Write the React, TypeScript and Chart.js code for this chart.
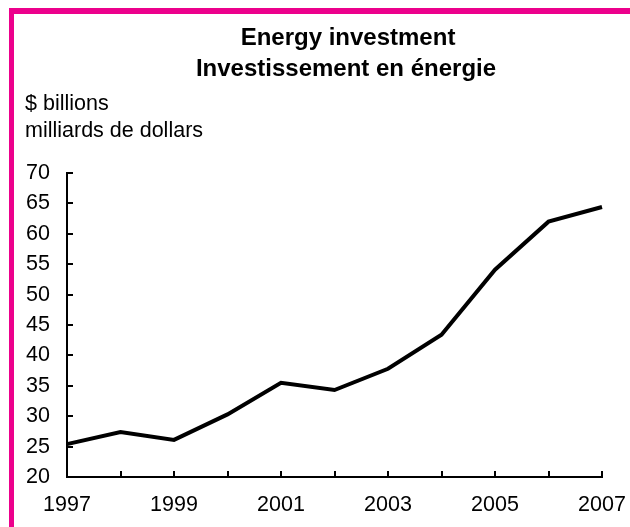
import React, { useEffect, useRef } from "react";
import { Chart, registerables } from "chart.js";

Chart.register(...registerables);

const years = ["1997", "1998", "1999", "2000", "2001", "2002", "2003", "2004", "2005", "2006", "2007"];
const investment = [25.4, 27.4, 26.1, 30.3, 35.5, 34.3, 37.8, 43.4, 54.1, 62.0, 64.4];
const yTicks = [20, 25, 30, 35, 40, 45, 50, 55, 60, 65, 70];
const titleLines = ["Energy investment", "Investissement en énergie"];
const unitLines = ["$ billions", "milliards de dollars"];

const FONT = "'Liberation Sans', Arial, Helvetica, sans-serif";
const PINK = "#ec008c";

const decorPlugin = {
  id: "decor",
  beforeDraw(chart: any) {
    const ctx = chart.ctx;
    ctx.save();
    ctx.fillStyle = "#ffffff";
    ctx.fillRect(0, 0, chart.width, chart.height);
    ctx.fillStyle = PINK;
    ctx.fillRect(9, 8, 5, chart.height - 8);
    ctx.fillRect(9, 8, chart.width - 9, 6);
    ctx.restore();
  },
  afterDraw(chart: any) {
    const ctx = chart.ctx;
    const area = chart.chartArea;
    const xs = chart.scales.x;
    const ys = chart.scales.y;
    ctx.save();
    ctx.fillStyle = "#000";
    ctx.textAlign = "center";
    ctx.textBaseline = "alphabetic";
    ctx.font = `bold 24px ${FONT}`;
    ctx.fillText(titleLines[0], 348, 45);
    ctx.fillText(titleLines[1], 346, 76);
    ctx.textAlign = "left";
    ctx.font = `21.5px ${FONT}`;
    ctx.fillText(unitLines[0], 25, 110);
    ctx.fillText(unitLines[1], 25, 137);
    ctx.strokeStyle = "#000";
    ctx.lineWidth = 2;
    ctx.beginPath();
    yTicks.forEach((v) => {
      const y = Math.round(ys.getPixelForValue(v));
      ctx.moveTo(area.left, y);
      ctx.lineTo(area.left + 6, y);
    });
    years.forEach((_, i) => {
      const x = Math.round(xs.getPixelForValue(i));
      ctx.moveTo(x, area.bottom);
      ctx.lineTo(x, area.bottom - 6);
    });
    ctx.stroke();
    ctx.restore();
  },
};

export default function App() {
  const ref = useRef<HTMLCanvasElement | null>(null);
  useEffect(() => {
    if (!ref.current) return;
    const chart = new Chart(ref.current, {
      type: "line",
      data: {
        labels: years,
        datasets: [
          {
            data: investment,
            borderColor: "#000",
            borderWidth: 4,
            pointRadius: 0,
            tension: 0,
            fill: false,
            clip: false as any,
            borderJoinStyle: "miter",
          },
        ],
      },
      options: {
        animation: false,
        responsive: false,
        maintainAspectRatio: false,
        layout: { padding: { left: 14, right: 28, top: 173, bottom: 0 } },
        plugins: {
          legend: { display: false },
          title: { display: false },
          tooltip: { enabled: false },
        },
        scales: {
          x: {
            type: "category",
            offset: false,
            grid: { display: true, drawOnChartArea: false, drawTicks: false },
            border: { display: true, color: "#000", width: 2 },
            ticks: {
              autoSkip: false,
              maxRotation: 0,
              minRotation: 0,
              padding: 15,
              color: "#000",
              font: { family: FONT, size: 21.5 },
              callback: (_v: any, i: number) => (i % 2 === 0 ? years[i] : ""),
            },
            afterFit: (s: any) => {
              s.height = 50;
              s.paddingLeft = 0;
              s.paddingRight = 0;
            },
          },
          y: {
            min: 20,
            max: 70,
            grid: { display: true, drawOnChartArea: false, drawTicks: false },
            border: { display: true, color: "#000", width: 2 },
            ticks: {
              stepSize: 5,
              padding: 17,
              color: "#000",
              font: { family: FONT, size: 21.5 },
            },
            afterFit: (s: any) => {
              s.width = 53;
              s.paddingTop = 0;
              s.paddingBottom = 0;
            },
          },
        },
      },
      plugins: [decorPlugin],
    });
    return () => chart.destroy();
  }, []);
  return (
    <div style={{ position: "fixed", left: 0, top: 0, width: 630, height: 527 }}>
      <canvas ref={ref} width={630} height={527} style={{ display: "block" }} />
    </div>
  );
}
